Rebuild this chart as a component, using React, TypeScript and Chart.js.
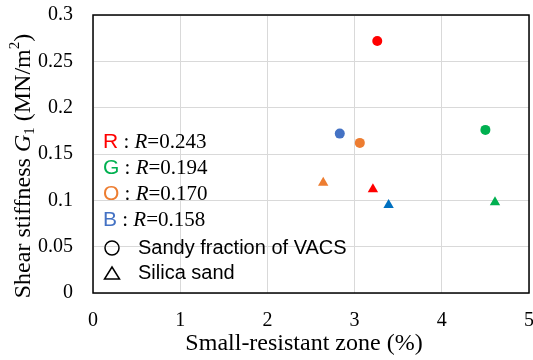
import React, { useEffect, useRef } from "react";
import { Chart, registerables } from "chart.js";

Chart.register(...registerables);

const groups = ["R", "G", "O", "B"];
const groupColors = ["#FF0000", "#00B050", "#ED7D31", "#4472C4"];
const triColors = ["#FF0000", "#00B050", "#ED7D31", "#0070C0"];
const rValues = ["0.243", "0.194", "0.170", "0.158"];
const circleX = [3.26, 4.5, 3.06, 2.83];
const circleY = [0.272, 0.176, 0.162, 0.172];
const triX = [3.21, 4.61, 2.64, 3.39];
const triY = [0.112, 0.098, 0.119, 0.095];
const xTicks = [0, 1, 2, 3, 4, 5];
const yTicks = [0, 0.05, 0.1, 0.15, 0.2, 0.25, 0.3];
const xTitle = "Small-resistant zone (%)";
const legendCircle = "Sandy fraction of VACS";
const legendTri = "Silica sand";

const SERIF = "'Liberation Serif', 'Times New Roman', serif";
const SANS = "'Liberation Sans', Arial, sans-serif";

const overlay = {
  id: "overlay",
  afterDraw(chart: any) {
    const ctx = chart.ctx;
    const a = chart.chartArea;
    ctx.save();
    // border
    ctx.strokeStyle = "#000";
    ctx.lineWidth = 1.5;
    ctx.strokeRect(a.left, a.top, a.right - a.left, a.bottom - a.top);

    // legend
    ctx.textBaseline = "middle";
    let y = 142;
    const lx = 103;
    groups.forEach((g, i) => {
      ctx.font = `21px ${SANS}`;
      ctx.fillStyle = groupColors[i];
      ctx.textAlign = "left";
      ctx.fillText(g, lx, y);
      let x = lx + ctx.measureText(g).width;
      ctx.fillStyle = "#000";
      ctx.font = `21px ${SERIF}`;
      const colon = " : ";
      ctx.fillText(colon, x, y);
      x += ctx.measureText(colon).width;
      ctx.font = `italic 21px ${SERIF}`;
      ctx.fillText("R", x, y);
      x += ctx.measureText("R").width;
      ctx.font = `21px ${SERIF}`;
      ctx.fillText("=" + rValues[i], x, y);
      y += 26;
    });
    // symbols
    ctx.strokeStyle = "#000";
    ctx.lineWidth = 1.5;
    ctx.beginPath();
    ctx.arc(112, 248, 7, 0, Math.PI * 2);
    ctx.stroke();
    ctx.beginPath();
    ctx.moveTo(112, 267);
    ctx.lineTo(119.5, 279);
    ctx.lineTo(104.5, 279);
    ctx.closePath();
    ctx.stroke();
    ctx.font = `20px ${SANS}`;
    ctx.fillStyle = "#000";
    ctx.fillText(legendCircle, 138, 248);
    ctx.fillText(legendTri, 138, 273);

    // x title
    ctx.font = `24px ${SERIF}`;
    ctx.textAlign = "center";
    ctx.fillText(xTitle, (a.left + a.right) / 2 - 7, 344);

    // y title (rich)
    ctx.translate(24, 166);
    ctx.rotate(-Math.PI / 2);
    const parts: [string, string, number][] = [
      ["Shear stiffness ", `24px ${SERIF}`, 0],
      ["G", `italic 24px ${SERIF}`, 0],
      ["1", `15px ${SERIF}`, 6],
      [" (MN/m", `24px ${SERIF}`, 0],
      ["2", `15px ${SERIF}`, -9],
      [")", `24px ${SERIF}`, 0],
    ];
    let total = 0;
    parts.forEach(([t, f]) => {
      ctx.font = f;
      total += ctx.measureText(t).width;
    });
    let px = -total / 2;
    ctx.textAlign = "left";
    parts.forEach(([t, f, dy]) => {
      ctx.font = f;
      ctx.fillText(t, px, dy);
      px += ctx.measureText(t).width;
    });
    ctx.restore();
  },
};

const zeroPad = (s: any) => {
  s.paddingLeft = 0;
  s.paddingRight = 0;
  s.paddingTop = 0;
  s.paddingBottom = 0;
};

export default function App() {
  const ref = useRef<HTMLCanvasElement>(null);
  useEffect(() => {
    document.body.style.margin = "0";
    const datasets: any[] = [];
    groups.forEach((g, i) => {
      datasets.push({
        label: g + " circle",
        data: [{ x: circleX[i], y: circleY[i] }],
        pointStyle: "circle",
        pointRadius: 5,
        backgroundColor: groupColors[i],
        borderColor: groupColors[i],
        borderWidth: 0,
      });
      datasets.push({
        label: g + " triangle",
        data: [{ x: triX[i], y: triY[i] }],
        pointStyle: "triangle",
        pointRadius: 6,
        backgroundColor: triColors[i],
        borderColor: triColors[i],
        borderWidth: 0,
      });
    });
    const chart = new Chart(ref.current!, {
      type: "scatter",
      data: { datasets },
      plugins: [overlay],
      options: {
        animation: false,
        responsive: false,
        layout: { autoPadding: false, padding: { top: 15, right: 4, left: 0, bottom: 0 } },
        plugins: { legend: { display: false }, tooltip: { enabled: false } },
        scales: {
          x: {
            type: "linear",
            min: 0,
            max: 5,
            afterBuildTicks: (s: any) => {
              s.ticks = xTicks.map((v) => ({ value: v }));
            },
            afterFit: (s: any) => {
              s.height = 67;
              zeroPad(s);
            },
            grid: { color: "#D9D9D9", lineWidth: 1, drawTicks: false },
            border: { display: false },
            ticks: {
              color: "#000",
              font: { family: SERIF, size: 20 },
              padding: 16,
              maxRotation: 0,
              callback: (v: any) => String(v),
            },
          },
          y: {
            type: "linear",
            min: 0,
            max: 0.3,
            afterBuildTicks: (s: any) => {
              s.ticks = yTicks.map((v) => ({ value: v }));
            },
            afterFit: (s: any) => {
              s.width = 93;
              zeroPad(s);
            },
            grid: { color: "#D9D9D9", lineWidth: 1, drawTicks: false },
            border: { display: false },
            ticks: {
              color: "#000",
              font: { family: SERIF, size: 20 },
              padding: 20,
              callback: (v: any) => String(Math.round(v * 100) / 100),
            },
          },
        },
      },
    });
    return () => chart.destroy();
  }, []);
  return <canvas ref={ref} width={533} height={360} style={{ display: "block" }} />;
}
